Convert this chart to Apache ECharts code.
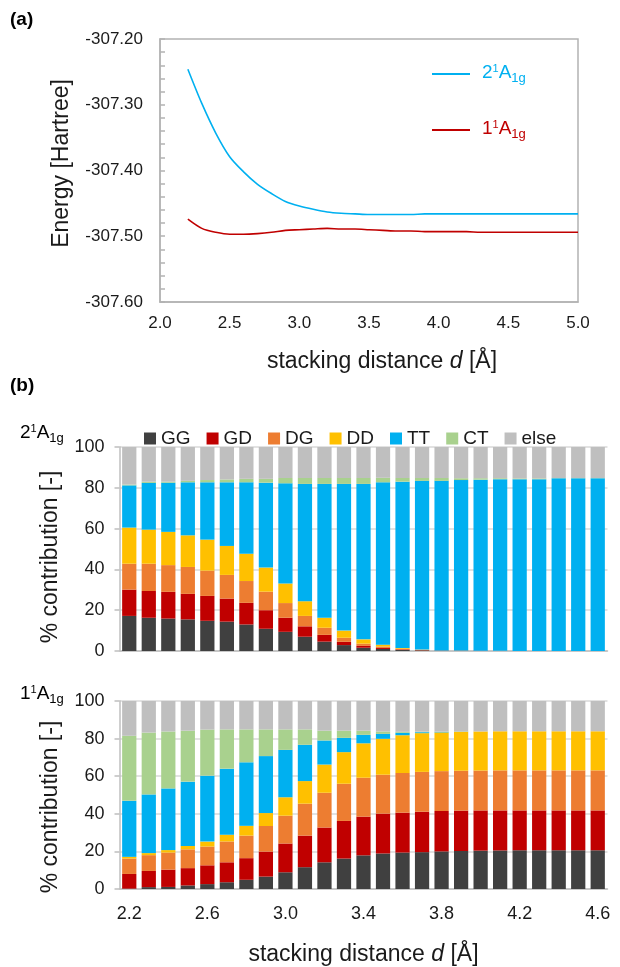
<!DOCTYPE html>
<html>
<head>
<meta charset="utf-8">
<script src="https://cdn.jsdelivr.net/npm/echarts@6/dist/echarts.min.js"></script>
<style>
html,body{margin:0;padding:0;background:#fff;}
#chart{width:620px;height:967px;}
</style>
</head>
<body>
<div id="chart"></div>
<script>
// ---- (a) energy curves ----
const distances = [2.2,2.3,2.4,2.5,2.6,2.7,2.8,2.9,3.0,3.1,3.2,3.3,3.4,3.5,3.6,3.7,3.8,3.9,4.0,4.1,4.2,4.3,4.4,4.5,4.6,4.7,4.8,4.9,5.0];
const energy2A1g = [-307.246,-307.298,-307.343,-307.379,-307.402,-307.421,-307.435,-307.447,-307.454,-307.459,-307.463,-307.465,-307.466,-307.467,-307.467,-307.467,-307.467,-307.466,-307.466,-307.466,-307.466,-307.466,-307.466,-307.466,-307.466,-307.466,-307.466,-307.466,-307.466];
const energy1A1g = [-307.474,-307.488,-307.494,-307.497,-307.497,-307.496,-307.494,-307.491,-307.490,-307.489,-307.488,-307.489,-307.489,-307.490,-307.491,-307.492,-307.492,-307.493,-307.493,-307.493,-307.493,-307.494,-307.494,-307.494,-307.494,-307.494,-307.494,-307.494,-307.494];
const energyTicks = [-307.60,-307.50,-307.40,-307.30,-307.20];

// ---- (b) contributions ----
const barCategories = ['2.2','2.3','2.4','2.5','2.6','2.7','2.8','2.9','3.0','3.1','3.2','3.3','3.4','3.5','3.6','3.7','3.8','3.9','4.0','4.1','4.2','4.3','4.4','4.5','4.6'];
const componentNames = ['GG','GD','DG','DD','TT','CT','else'];
const componentColors = ['#404040','#c00000','#ed7d31','#ffc000','#00b0f0','#a9d18e','#bfbfbf'];

// 2^1A1g
const s2_GG   = [17.2,16.3,15.9,15.5,14.8,14.4,13.0,10.9,9.4,7.0,4.6,2.9,1.6,1.0,0.5,0.3,0.1,0.1,0,0,0,0,0,0,0];
const s2_GD   = [12.9,13.1,13.1,12.5,12.2,11.3,10.6,9.1,6.9,5.1,3.3,1.6,0.9,0.5,0.3,0.1,0.05,0,0.1,0,0,0,0,0,0];
const s2_DG   = [12.7,13.4,13.1,13.2,12.4,11.6,10.7,9.1,7.2,5.1,3.5,2.0,1.1,0.7,0.3,0.2,0.05,0.1,0,0.1,0,0,0,0,0];
const s2_DD   = [17.7,16.7,16.3,15.5,15.2,14.2,13.4,11.8,9.6,7.2,4.9,3.5,2.1,0.9,0.4,0.1,0,0,0,0,0,0,0,0,0];
const s2_TT   = [20.7,22.9,24.1,26.0,28.1,31.2,35.0,41.6,49.1,57.5,65.6,71.9,76.2,79.6,81.5,82.7,83.2,83.6,83.9,84.1,84.2,84.2,84.7,84.7,84.7];
const s2_CT   = [0.4,0.6,0.5,0.7,1.1,1.4,1.7,1.9,2.6,2.9,2.9,2.9,2.9,2.2,1.8,1.4,1.4,0.9,0.7,0.5,0.4,0.4,0.1,0.1,0.1];
const s2_else = [18.4,17.0,17.0,16.6,16.2,15.9,15.6,15.6,15.2,15.2,15.2,15.2,15.2,15.1,15.2,15.2,15.2,15.3,15.3,15.3,15.4,15.4,15.2,15.2,15.2];

// 1^1A1g
const s1_GG   = [0.2,1.0,1.1,1.9,2.6,3.6,4.9,6.6,8.9,11.6,14.2,16.2,17.9,18.9,19.4,19.6,20.0,20.2,20.4,20.5,20.6,20.6,20.6,20.6,20.6];
const s1_GD   = [7.8,8.6,9.2,9.2,10.0,10.6,11.5,13.3,15.3,16.8,18.5,20.0,20.6,21.2,21.2,21.5,21.5,21.5,21.4,21.3,21.2,21.2,21.2,21.2,21.2];
const s1_DG   = [8.2,8.4,9.1,10.0,10.0,11.1,12.0,13.6,14.8,17.0,18.5,19.8,20.7,20.7,21.1,21.2,21.2,21.2,21.2,21.3,21.3,21.3,21.3,21.3,21.3];
const s1_DD   = [0.9,1.1,1.3,1.8,2.6,3.6,5.2,6.9,9.8,12.0,15.0,16.8,18.3,19.1,20.1,20.6,20.6,20.8,20.8,20.8,20.8,20.8,20.8,20.8,20.8];
const s1_TT   = [29.8,31.2,32.8,34.2,35.1,35.1,33.8,30.3,25.2,19.3,12.8,7.6,4.5,2.6,1.3,0.5,0.3,0.1,0,0,0,0,0,0,0];
const s1_CT   = [34.6,32.9,30.3,27.1,24.5,20.9,17.5,14.2,10.9,8.2,5.2,3.8,2.2,1.3,0.5,0.3,0.1,0,0,0,0,0,0,0,0];
const s1_else = [18.5,16.8,16.2,15.8,15.2,15.1,15.1,15.1,15.1,15.1,15.8,15.8,15.8,16.2,16.4,16.3,16.3,16.2,16.2,16.1,16.1,16.1,16.1,16.1,16.1];

const FONT = '"Liberation Sans", Arial, Helvetica, sans-serif';
const TXT = '#1a1a1a';

function supLabel(prefix, color) {
  return {
    [prefix+'n']: {fontSize: 19, fontFamily: FONT, color: color, lineHeight: 22, verticalAlign: 'top'},
    [prefix+'s']: {fontSize: 11, fontFamily: FONT, color: color, lineHeight: 12, verticalAlign: 'top'},
    [prefix+'b']: {fontSize: 13, fontFamily: FONT, color: color, lineHeight: 14, padding: [12,0,0,0], verticalAlign: 'bottom'}
  };
}

const chart = echarts.init(document.getElementById('chart'), null, {renderer: 'canvas'});

const seriesB = [];
const sets2 = [s2_GG,s2_GD,s2_DG,s2_DD,s2_TT,s2_CT,s2_else];
const sets1 = [s1_GG,s1_GD,s1_DG,s1_DD,s1_TT,s1_CT,s1_else];
componentNames.forEach((nm, i) => {
  seriesB.push({
    name: nm, type: 'bar', stack: 'upper', xAxisIndex: 1, yAxisIndex: 1,
    barCategoryGap: '27%', data: sets2[i], itemStyle: {color: componentColors[i]},
    emphasis: {disabled: true}
  });
});
componentNames.forEach((nm, i) => {
  seriesB.push({
    name: nm, type: 'bar', stack: 'lower', xAxisIndex: 2, yAxisIndex: 2,
    barCategoryGap: '27%', data: sets1[i], itemStyle: {color: componentColors[i]},
    emphasis: {disabled: true}
  });
});

const bYAxis = (gridIndex, padRight) => ({
  type: 'value', gridIndex: gridIndex, min: 0, max: 100, interval: 20,
  name: '% contribution [-]', nameLocation: 'middle', nameGap: 57, nameRotate: 90,
  nameTextStyle: {fontSize: 23, fontFamily: FONT, color: TXT, padding: [0, padRight, 0, 0]},
  axisLine: {show: true, lineStyle: {color: '#bfbfbf', width: 1.5}},
  axisTick: {show: true, length: 5, lineStyle: {color: '#bfbfbf', width: 1.5}},
  axisLabel: {fontSize: 18, fontFamily: FONT, color: TXT, margin: 15},
  splitLine: {show: true, lineStyle: {color: '#d9d9d9', width: 1.5}}
});

const option = {
  animation: false,
  backgroundColor: '#ffffff',
  textStyle: {fontFamily: FONT},
  grid: [
    {left: 160, top: 39, width: 418, height: 263, show: true, borderColor: '#b3b3b3', borderWidth: 1.5, backgroundColor: 'transparent'},
    {left: 119.5, top: 447, width: 488, height: 204},
    {left: 119.5, top: 701, width: 488, height: 188}
  ],
  legend: [
    {
      data: [{name: '2¹A1g', icon: 'rect'}, {name: '1¹A1g', icon: 'rect'}],
      orient: 'vertical', left: 427, top: 55, itemWidth: 38, itemHeight: 2, itemGap: 31,
      selectedMode: false,
      formatter: function (name) {
        return name === '2¹A1g' ? '{bn|2}{bs|1}{bn|A}{bb|1g}' : '{rn|1}{rs|1}{rn|A}{rb|1g}';
      },
      textStyle: {padding: [0, 0, 0, 7], rich: Object.assign({}, supLabel('b', '#00b0f0'), supLabel('r', '#c00000'))}
    },
    {
      data: componentNames, left: 139, top: 424, itemWidth: 12, itemHeight: 12, itemGap: 16,
      icon: 'rect', selectedMode: false,
      textStyle: {fontSize: 19, fontFamily: FONT, color: TXT}
    }
  ],
  xAxis: [
    {
      type: 'value', gridIndex: 0, min: 2, max: 5, interval: 0.5,
      name: '{t|stacking distance }{i|d}{t| [Å]}', nameLocation: 'middle', nameGap: 48,
      nameTextStyle: {padding: [0, 0, 0, 26], rich: {t: {fontSize: 23, fontFamily: FONT, color: TXT}, i: {fontSize: 23, fontFamily: FONT, fontStyle: 'italic', color: TXT}}},
      axisLine: {show: true, lineStyle: {color: '#b3b3b3', width: 1.5}},
      axisTick: {show: false},
      splitLine: {show: false},
      axisLabel: {fontSize: 17, fontFamily: FONT, color: TXT, margin: 13, formatter: v => v.toFixed(1)}
    },
    {
      type: 'category', gridIndex: 1, data: barCategories,
      axisLine: {show: true, lineStyle: {color: '#bfbfbf', width: 1.5}},
      axisTick: {show: false}, axisLabel: {show: false}
    },
    {
      type: 'category', gridIndex: 2, data: barCategories,
      name: '{t|stacking distance }{i|d}{t| [Å]}', nameLocation: 'middle', nameGap: 54,
      nameTextStyle: {rich: {t: {fontSize: 23, fontFamily: FONT, color: TXT}, i: {fontSize: 23, fontFamily: FONT, fontStyle: 'italic', color: TXT}}},
      axisLine: {show: true, lineStyle: {color: '#bfbfbf', width: 1.5}},
      axisTick: {show: false},
      axisLabel: {interval: 3, fontSize: 18, fontFamily: FONT, color: TXT, margin: 16}
    }
  ],
  yAxis: [
    {
      type: 'value', gridIndex: 0, min: energyTicks[0], max: energyTicks[energyTicks.length - 1], interval: 0.1,
      name: 'Energy [Hartree]', nameLocation: 'middle', nameGap: 87, nameRotate: 90,
      nameTextStyle: {fontSize: 23, fontFamily: FONT, color: TXT, padding: [0, 0, 0, 14]},
      axisLine: {show: true, lineStyle: {color: '#b3b3b3', width: 1.5}},
      axisTick: {show: true, inside: true, length: 5, lineStyle: {color: '#b3b3b3', width: 1.5}},
      minorTick: {show: true, splitNumber: 5, length: 5, lineStyle: {color: '#b3b3b3', width: 1.5}},
      splitLine: {show: false},
      axisLabel: {fontSize: 17, fontFamily: FONT, color: TXT, margin: 17, formatter: v => v.toFixed(2)}
    },
    bYAxis(1, 16),
    bYAxis(2, 24)
  ],
  series: [
    {
      name: '2¹A1g', type: 'line', xAxisIndex: 0, yAxisIndex: 0, symbol: 'none', smooth: 0.3,
      lineStyle: {color: '#00b0f0', width: 1.6}, itemStyle: {color: '#00b0f0'},
      data: distances.map((d, i) => [d, energy2A1g[i]])
    },
    {
      name: '1¹A1g', type: 'line', xAxisIndex: 0, yAxisIndex: 0, symbol: 'none', smooth: 0.3,
      lineStyle: {color: '#c00000', width: 1.6}, itemStyle: {color: '#c00000'},
      data: distances.map((d, i) => [d, energy1A1g[i]])
    }
  ].concat(seriesB),
  graphic: [
    {type: 'text', left: 10, top: 10, style: {text: '(a)', fontSize: 19, fontWeight: 'bold', fontFamily: FONT, fill: '#000'}},
    {type: 'text', left: 10, top: 376, style: {text: '(b)', fontSize: 19, fontWeight: 'bold', fontFamily: FONT, fill: '#000'}},
    {type: 'text', left: 20, top: 420, style: {text: '{kn|2}{ks|1}{kn|A}{kb|1g}', rich: supLabel('k', TXT)}},
    {type: 'text', left: 20, top: 681, style: {text: '{kn|1}{ks|1}{kn|A}{kb|1g}', rich: supLabel('k', TXT)}}
  ]
};
chart.setOption(option);
</script>
</body>
</html>
